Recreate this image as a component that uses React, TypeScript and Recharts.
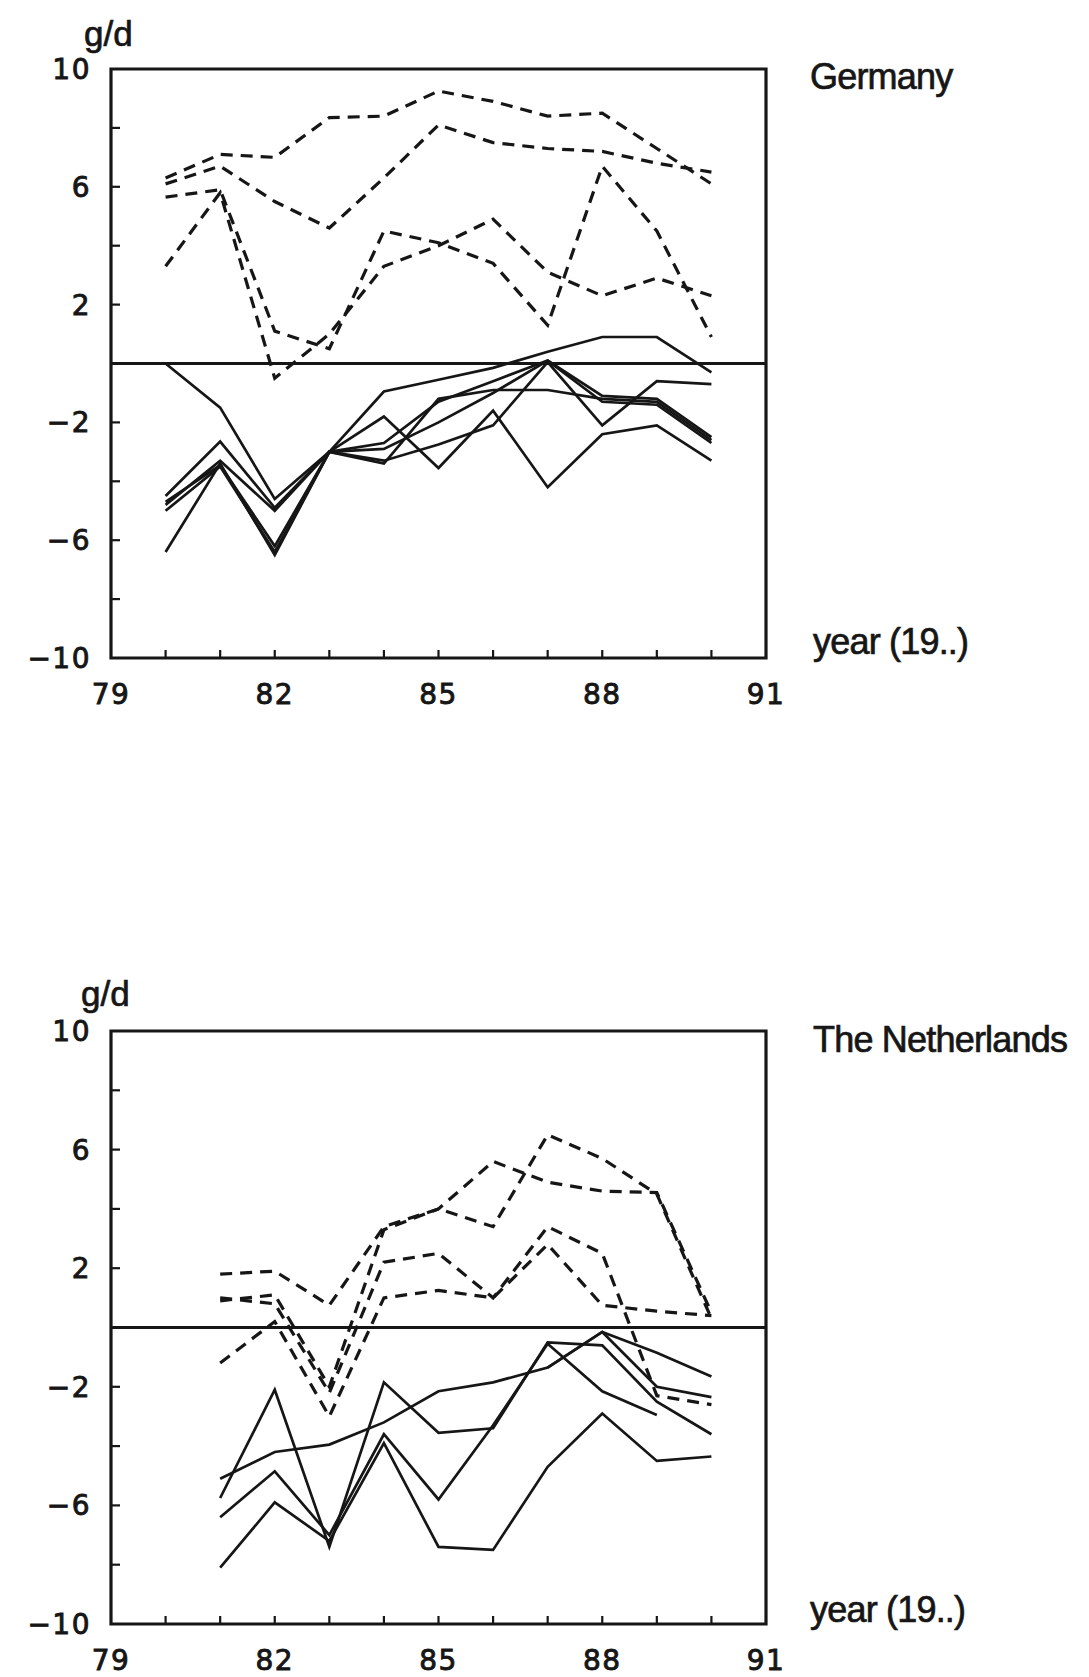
import React from 'react';
import { LineChart, Line, XAxis, YAxis, ReferenceLine, ReferenceArea } from 'recharts';

// years on the x axis
const deYears = [80, 81, 82, 83, 84, 85, 86, 87, 88, 89, 90];
const nlYears = [81, 82, 83, 84, 85, 86, 87, 88, 89, 90];

// Germany, g/d, dashed group
const deDashed1 = [6.3, 7.1, 7.0, 8.35, 8.4, 9.25, 8.9, 8.4, 8.5, 7.3, 6.1];
const deDashed2 = [6.1, 6.7, 5.5, 4.6, 6.3, 8.1, 7.5, 7.3, 7.2, 6.8, 6.5];
const deDashed3 = [5.65, 5.9, 1.1, 0.5, 4.5, 4.1, 3.4, 1.3, 6.7, 4.5, 0.9];
const deDashed4 = [3.3, 5.8, -0.5, 1.0, 3.3, 4.0, 4.9, 3.1, 2.3, 2.9, 2.3];

// Germany, g/d, solid group
const deSolid1 = [0, -1.5, -4.6, -3.0, -0.95, -0.55, -0.15, 0.4, 0.9, 0.9, -0.3];
const deSolid2 = [-4.5, -2.65, -4.9, -3.0, -2.7, -1.3, -0.6, 0.1, -1.1, -1.2, -2.5];
const deSolid3 = [-6.4, -3.4, -6.5, -3.0, -1.8, -3.55, -1.6, -4.2, -2.4, -2.1, -3.3];
const deSolid4 = [-4.7, -3.45, -6.2, -3.0, -3.4, -1.2, -0.9, -0.9, -1.2, -1.3, -2.6];
const deSolid5 = [-5.0, -3.5, -6.4, -3.0, -3.3, -2.75, -2.1, 0.05, -2.1, -0.6, -0.7];
const deSolid6 = [-4.8, -3.3, -5.0, -3.0, -2.9, -2.0, -1.0, 0.1, -1.3, -1.4, -2.7];

// The Netherlands, g/d, dashed group
const nlDashed1 = [1.8, 1.9, 0.75, 3.4, 4.0, 3.4, 6.5, 5.7, 4.5, 0.3];
const nlDashed2 = [0.9, 1.1, -2.0, 3.3, 4.0, 5.6, 4.9, 4.6, 4.55, 0.5];
const nlDashed3 = [1.0, 0.8, -2.2, 2.2, 2.5, 1.0, 3.4, 2.5, -2.3, -2.6];
const nlDashed4 = [-1.2, 0.2, -3.0, 1.0, 1.25, 1.0, 2.8, 0.75, 0.55, 0.4];

// The Netherlands, g/d, solid group
const nlSolid1 = [-5.1, -4.2, -3.95, -3.2, -2.15, -1.85, -1.35, -0.15, -0.85, -1.65];
const nlSolid2 = [-5.75, -2.1, -7.4, -1.85, -3.55, -3.4, -0.5, -0.6, -2.5, -3.6];
const nlSolid3 = [-6.4, -4.85, -7.0, -3.6, -5.8, -3.3, -0.55, -2.15, -2.95, null];
const nlSolid4 = [-8.1, -5.9, -7.2, -3.9, -7.4, -7.5, -4.7, -2.9, -4.5, -4.35];
const nlSolid5 = [null, null, null, null, null, null, -1.35, -0.15, -2.0, -2.35];

// axes
const xTicks = [79, 80, 81, 82, 83, 84, 85, 86, 87, 88, 89, 90, 91];
const xLabels = [79, 82, 85, 88, 91];
const yTicks = [-10, -8, -6, -4, -2, 0, 2, 4, 6, 8, 10];
const yLabels = [10, 6, 2, -2, -6, -10];

const deDashed = [deDashed1, deDashed2, deDashed3, deDashed4];
const deSolid = [deSolid1, deSolid2, deSolid3, deSolid4, deSolid5, deSolid6];
const nlDashed = [nlDashed1, nlDashed2, nlDashed3, nlDashed4];
const nlSolid = [nlSolid1, nlSolid2, nlSolid3, nlSolid4, nlSolid5];

function buildRows(years: number[], dashed: (number | null)[][], solid: (number | null)[][]) {
  return years.map((year, i) => {
    const row: Record<string, number | null> = { year };
    dashed.forEach((s, k) => (row[`d${k}`] = s[i]));
    solid.forEach((s, k) => (row[`s${k}`] = s[i]));
    return row;
  });
}

const INK = '#161616';
const TICK_FONT = '"DejaVu Sans", sans-serif';
const TEXT_FONT = '"Liberation Sans", Arial, sans-serif';
const LEFT = 111;
const RIGHT = 766;

const fmt = (v: number) => (v < 0 ? `\u2212${Math.abs(v)}` : `${v}`);

const tickText = {
  fontFamily: TICK_FONT,
  fontSize: 28,
  letterSpacing: 1.5,
  fill: INK,
  stroke: INK,
  strokeWidth: 0.9,
};

// x ticks point up into the plot, labels only every third year
const renderXTick = (props: any) => {
  const { x, y, payload } = props;
  const v = payload.value;
  return (
    <g key={`xt${v}`}>
      {v !== 79 && v !== 91 && <line x1={x} y1={y - 1} x2={x} y2={y - 8} stroke={INK} strokeWidth={2.2} />}
      {xLabels.includes(v) && (
        <text x={x} y={y + 36} dy="0.36em" textAnchor="middle" {...tickText}>
          {v}
        </text>
      )}
    </g>
  );
};

const renderYTick = (props: any) => {
  const { x, y, payload } = props;
  const v = payload.value;
  return (
    <g key={`yt${v}`}>
      {Math.abs(v) !== 10 && <line x1={x + 1} x2={x + 9} y1={y} y2={y} stroke={INK} strokeWidth={2.2} />}
      {yLabels.includes(v) && (
        <text x={x - 20} y={y} dy="0.36em" textAnchor="end" {...tickText}>
          {fmt(v)}
        </text>
      )}
    </g>
  );
};

interface PanelProps {
  rows: Record<string, number | null>[];
  nDashed: number;
  nSolid: number;
  top: number;
  height: number;
  plotTop: number;
  plotBottom: number;
}

function Panel({ rows, nDashed, nSolid, top, height, plotTop, plotBottom }: PanelProps) {
  const margin = { top: plotTop - top, right: 1089 - RIGHT, bottom: top + height - plotBottom - 1, left: LEFT - 1 };
  return (
    <div style={{ position: 'absolute', left: 0, top }}>
      <LineChart width={1089} height={height} data={rows} margin={margin}>
        <XAxis dataKey="year" type="number" domain={[79, 91]} ticks={xTicks} interval={0}
          height={1} tickSize={0} tickMargin={0} tickLine={false} axisLine={false} tick={renderXTick} />
        <YAxis type="number" domain={[-10, 10]} ticks={yTicks} interval={0}
          width={1} tickSize={0} tickMargin={0} tickLine={false} axisLine={false} tick={renderYTick} />
        <ReferenceArea x1={79} x2={91} y1={-10} y2={10} fill="none" stroke={INK} strokeWidth={3.2} />
        <ReferenceLine y={0} stroke={INK} strokeWidth={2.8} />
        {Array.from({ length: nDashed }, (_, k) => (
          <Line key={`d${k}`} dataKey={`d${k}`} type="linear" stroke={INK} strokeWidth={3.2}
            strokeDasharray="12 8" dot={false} isAnimationActive={false} connectNulls={false} />
        ))}
        {Array.from({ length: nSolid }, (_, k) => (
          <Line key={`s${k}`} dataKey={`s${k}`} type="linear" stroke={INK} strokeWidth={2.7}
            dot={false} isAnimationActive={false} connectNulls={false} />
        ))}
      </LineChart>
    </div>
  );
}

export default function App() {
  const deRows = buildRows(deYears, deDashed, deSolid);
  const nlRows = buildRows(nlYears, nlDashed, nlSolid);

  return (
    <div style={{ position: 'absolute', left: 0, top: 0, width: 1089, height: 1677, background: '#fff', overflow: 'hidden' }}>
      <Panel rows={deRows} nDashed={deDashed.length} nSolid={deSolid.length} top={0} height={760}
        plotTop={69} plotBottom={658} />
      <Panel rows={nlRows} nDashed={nlDashed.length} nSolid={nlSolid.length} top={900} height={777}
        plotTop={1031} plotBottom={1624} />
      <svg width={1089} height={1677} style={{ position: 'absolute', left: 0, top: 0, pointerEvents: 'none' }}>
        <g fontFamily={TEXT_FONT} fill={INK} stroke={INK} strokeWidth={0.7}>
          <text x={84} y={46} fontSize={35}>g/d</text>
          <text x={810} y={89} fontSize={36} letterSpacing={-0.8}>Germany</text>
          <text x={813} y={654} fontSize={36} letterSpacing={-0.8}>year (19..)</text>
          <text x={81} y={1006} fontSize={35}>g/d</text>
          <text x={813} y={1052} fontSize={36} letterSpacing={-0.8}>The Netherlands</text>
          <text x={810} y={1622} fontSize={36} letterSpacing={-0.8}>year (19..)</text>
        </g>
      </svg>
    </div>
  );
}
